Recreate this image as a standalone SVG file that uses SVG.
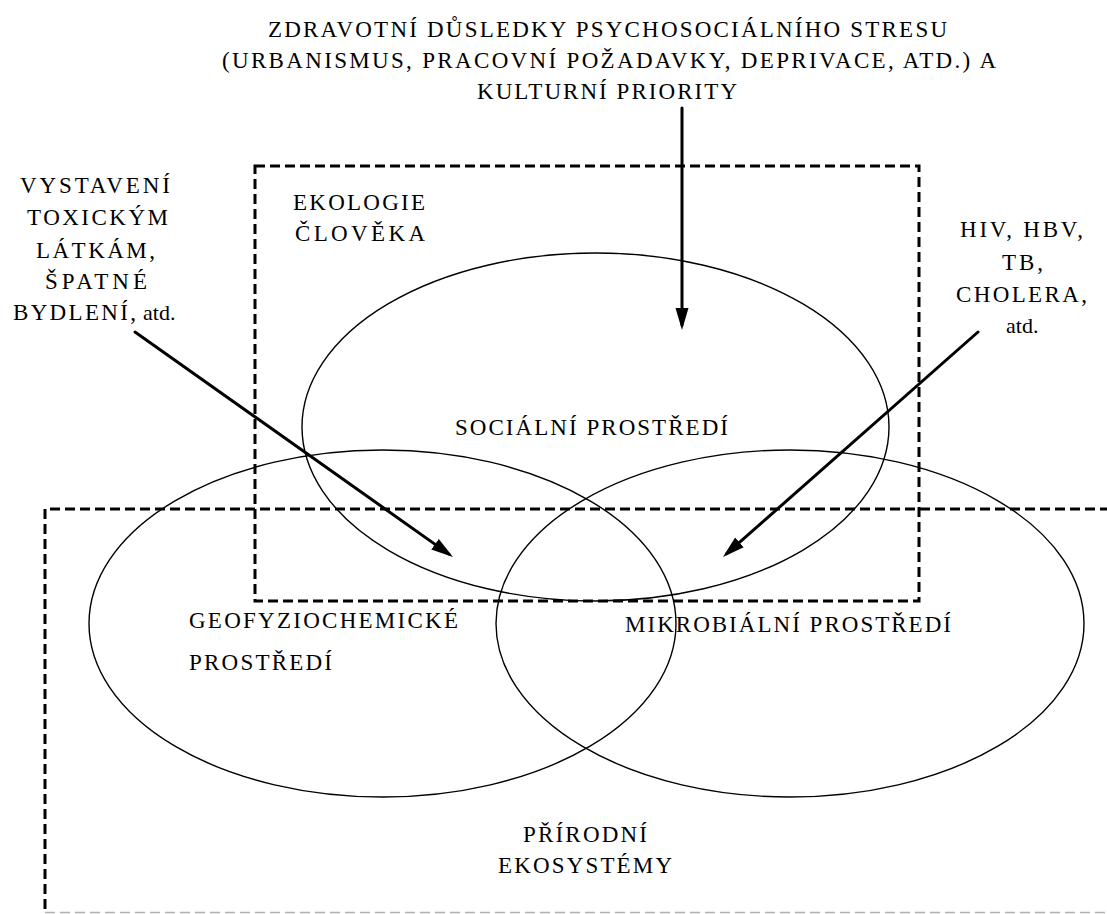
<svg xmlns="http://www.w3.org/2000/svg" width="1107" height="914" viewBox="0 0 1107 914">
<defs>
<style>
.t{font-family:"Liberation Serif","Times New Roman",serif;font-size:23px;fill:#000}
.s{font-family:"Liberation Serif","Times New Roman",serif;font-size:22px}
.dash{fill:none;stroke:#000;stroke-width:3;stroke-dasharray:10 5}
.ell{fill:none;stroke:#000;stroke-width:1.4}
.arr{fill:none;stroke:#000;stroke-width:3;stroke-linecap:round;marker-end:url(#ah)}
</style>
<marker id="ah" markerUnits="userSpaceOnUse" markerWidth="22" markerHeight="14" refX="17" refY="6.5" orient="auto">
<path d="M0,0 L22,6.5 L0,13 z" fill="#000"/>
</marker>
</defs>
<rect width="1107" height="914" fill="#fff"/>

<g id="natural-ecosystems">
<path class="dash" d="M1110,509 H45 V913"/>
<line x1="45" y1="912.5" x2="1110" y2="912.5" stroke="#b0b0b0" stroke-width="1.5" stroke-dasharray="10 5"/>
<text class="t" x="523" y="842" textLength="124" lengthAdjust="spacing">PŘÍRODNÍ</text>
<text class="t" x="498" y="873" textLength="174" lengthAdjust="spacing">EKOSYSTÉMY</text>
</g>

<g id="human-ecology">
<rect class="dash" x="255" y="166" width="664" height="435"/>
<text class="t" x="293" y="210" textLength="132" lengthAdjust="spacing">EKOLOGIE</text>
<text class="t" x="295" y="241" textLength="130" lengthAdjust="spacing">ČLOVĚKA</text>
</g>

<g id="social">
<ellipse class="ell" cx="595.5" cy="427" rx="293.5" ry="174"/>
<text class="t" x="455" y="435" textLength="273" lengthAdjust="spacing">SOCIÁLNÍ PROSTŘEDÍ</text>
</g>

<g id="geo">
<ellipse class="ell" cx="382.5" cy="623.5" rx="293.5" ry="173.5"/>
<text class="t" x="189" y="628" textLength="269" lengthAdjust="spacing">GEOFYZIOCHEMICKÉ</text>
<text class="t" x="189" y="670" textLength="143" lengthAdjust="spacing">PROSTŘEDÍ</text>
</g>

<g id="micro">
<ellipse class="ell" cx="790" cy="623.5" rx="294" ry="173.5"/>
<text class="t" x="625" y="632" textLength="326" lengthAdjust="spacing">MIKROBIÁLNÍ PROSTŘEDÍ</text>
</g>

<g id="stress-label">
<text class="t" x="268" y="37" textLength="679" lengthAdjust="spacing">ZDRAVOTNÍ DŮSLEDKY PSYCHOSOCIÁLNÍHO STRESU</text>
<text class="t" x="222" y="68" textLength="774" lengthAdjust="spacing">(URBANISMUS, PRACOVNÍ POŽADAVKY, DEPRIVACE, ATD.) A</text>
<text class="t" x="477" y="99" textLength="260" lengthAdjust="spacing">KULTURNÍ PRIORITY</text>
</g>

<g id="toxic-label">
<text class="t" x="20" y="193" textLength="150" lengthAdjust="spacing">VYSTAVENÍ</text>
<text class="t" x="27" y="225" textLength="141" lengthAdjust="spacing">TOXICKÝM</text>
<text class="t" x="36" y="258" textLength="119" lengthAdjust="spacing">LÁTKÁM,</text>
<text class="t" x="45" y="289" textLength="102" lengthAdjust="spacing">ŠPATNÉ</text>
<text class="t" x="13" y="320"><tspan textLength="123" lengthAdjust="spacing">BYDLENÍ,</tspan><tspan class="s" x="143">atd.</tspan></text>
</g>

<g id="infection-label">
<text class="t" x="960" y="237" textLength="123" lengthAdjust="spacing">HIV, HBV,</text>
<text class="t" x="1002" y="270" textLength="41" lengthAdjust="spacing">TB,</text>
<text class="t" x="956" y="302" textLength="131" lengthAdjust="spacing">CHOLERA,</text>
<text class="s" x="1006" y="333">atd.</text>
</g>

<g id="connectors">
<line class="arr" x1="682" y1="108" x2="682" y2="325"/>
<line class="arr" x1="135" y1="332" x2="448.9" y2="554.1"/>
<line class="arr" x1="978" y1="332" x2="726.7" y2="553.7"/>
</g>
</svg>
